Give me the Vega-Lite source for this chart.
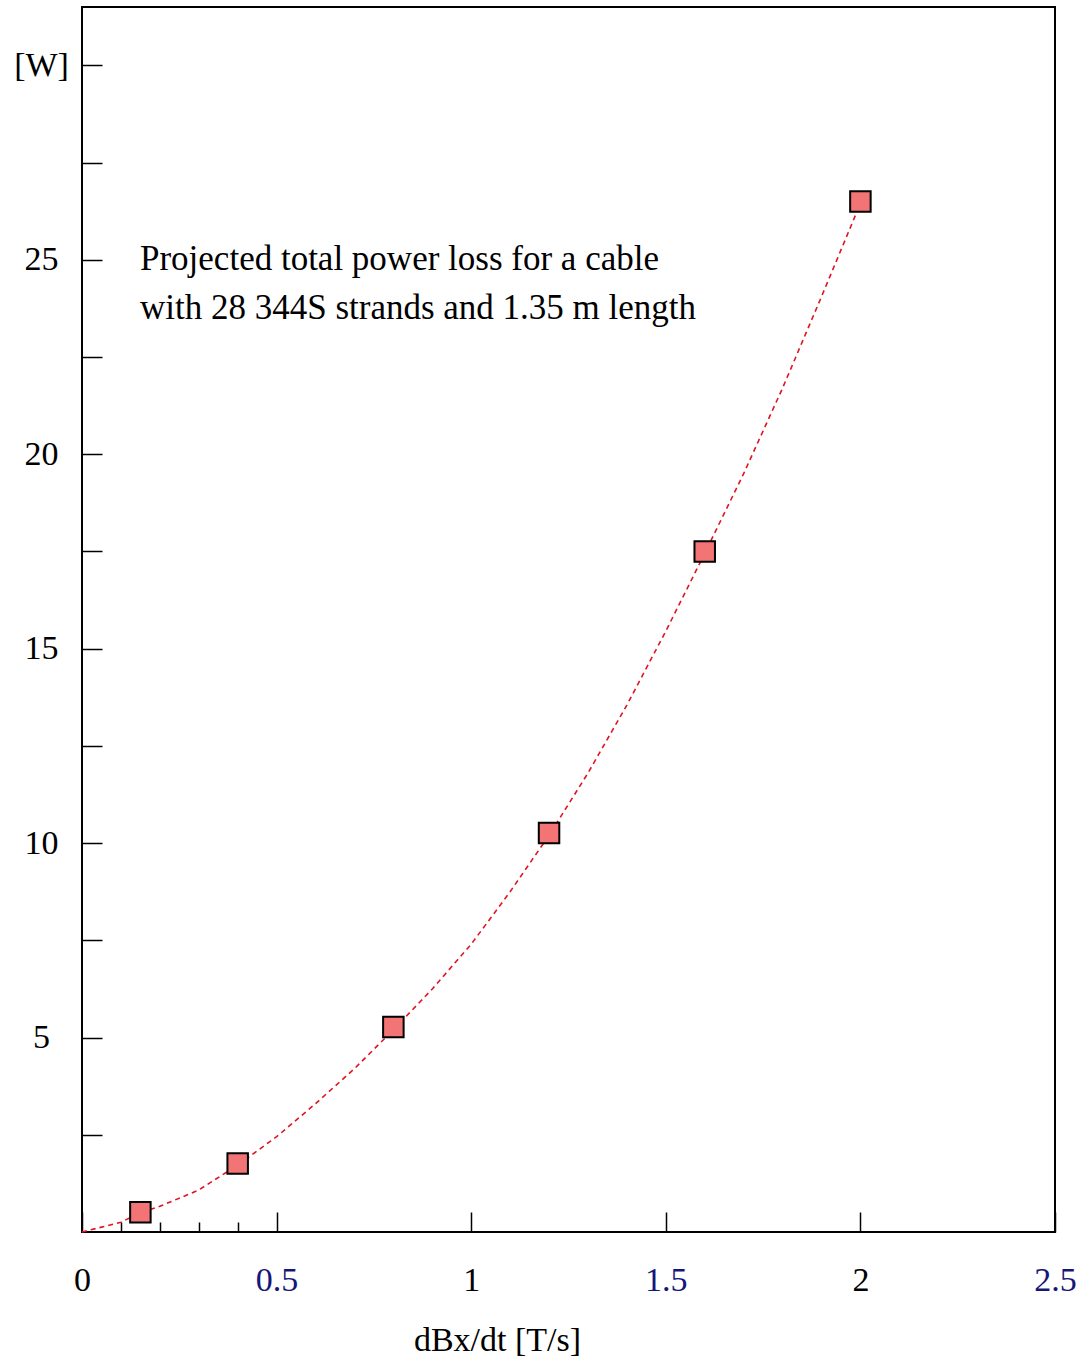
{
  "$schema": "https://vega.github.io/schema/vega-lite/v6.json",
  "width": 973,
  "height": 1225,
  "autosize": {"type": "none"},
  "padding": {"left": 82, "top": 7, "right": 31, "bottom": 128},
  "background": "white",
  "config": {
    "view": {"stroke": "black", "strokeWidth": 2},
    "axis": {
      "labelFont": "Liberation Serif",
      "titleFont": "Liberation Serif",
      "labelFontSize": 34,
      "titleFontSize": 34,
      "titleFontWeight": "normal",
      "grid": false,
      "domain": false,
      "tickColor": "black",
      "tickWidth": 1.5,
      "labelColor": "black",
      "titleColor": "black"
    }
  },
  "datasets": {
    "curve": [
      {"x": 0, "y": 0},
      {"x": 0.1, "y": 0.25},
      {"x": 0.15, "y": 0.5},
      {"x": 0.2, "y": 0.66},
      {"x": 0.3, "y": 1.08},
      {"x": 0.4, "y": 1.72},
      {"x": 0.5, "y": 2.45},
      {"x": 0.6, "y": 3.3},
      {"x": 0.7, "y": 4.2},
      {"x": 0.8, "y": 5.2},
      {"x": 0.9, "y": 6.25},
      {"x": 1.0, "y": 7.4},
      {"x": 1.1, "y": 8.75},
      {"x": 1.2, "y": 10.2},
      {"x": 1.3, "y": 11.8},
      {"x": 1.4, "y": 13.55},
      {"x": 1.5, "y": 15.45},
      {"x": 1.6, "y": 17.45},
      {"x": 1.7, "y": 19.5},
      {"x": 1.8, "y": 21.7},
      {"x": 1.9, "y": 24.05},
      {"x": 2.0, "y": 26.45}
    ],
    "points": [
      {"x": 0.15, "y": 0.51},
      {"x": 0.4, "y": 1.76},
      {"x": 0.8, "y": 5.27},
      {"x": 1.2, "y": 10.26},
      {"x": 1.6, "y": 17.5},
      {"x": 2.0, "y": 26.5}
    ],
    "note": [
      {"text": "Projected total power loss for a cable"}
    ]
  },
  "layer": [
    {
      "data": {"name": "curve"},
      "mark": {"type": "line", "color": "#e01420", "strokeDash": [5, 4], "strokeWidth": 1.6},
      "encoding": {
        "x": {
          "field": "x", "type": "quantitative",
          "scale": {"domain": [0, 2.5], "nice": false, "zero": true},
          "axis": {
            "orient": "bottom",
            "values": [0.1, 0.2, 0.3, 0.4],
            "tickSize": -10,
            "labels": false,
            "title": null
          }
        },
        "y": {
          "field": "y", "type": "quantitative",
          "scale": {"domain": [0, 31.5], "nice": false, "zero": true},
          "axis": {
            "values": [2.5, 5, 7.5, 10, 12.5, 15, 17.5, 20, 22.5, 25, 27.5, 30],
            "tickSize": -20,
            "format": "~g",
            "labelExpr": "datum.value == 30 ? '[W]' : (datum.value % 5 == 0 ? datum.label : '')",
            "labelAlign": "center",
            "labelBaseline": "middle",
            "labelPadding": 61,
            "title": null
          }
        }
      }
    },
    {
      "data": {"name": "points"},
      "mark": {"type": "point", "shape": "square", "filled": true, "size": 420, "fill": "#f27474", "stroke": "black", "strokeWidth": 2, "opacity": 1},
      "encoding": {
        "x": {
          "field": "x", "type": "quantitative",
          "axis": {
            "orient": "bottom",
            "values": [0, 0.5, 1, 1.5, 2, 2.5],
            "tickSize": -20,
            "format": "~g",
            "labelFlush": false,
            "labelPadding": 51,
            "labelColor": {"condition": {"test": "datum.value % 1 != 0", "value": "#161678"}, "value": "black"},
            "title": "dBx/dt [T/s]",
            "titleX": 415,
            "titleY": 118,
            "titleBaseline": "alphabetic",
            "titleAlign": "center"
          }
        },
        "y": {"field": "y", "type": "quantitative"}
      }
    },
    {
      "data": {"name": "note"},
      "mark": {
        "type": "text",
        "text": ["Projected total power loss for a cable", "with 28 344S strands and 1.35 m length"],
        "font": "Liberation Serif",
        "fontSize": 35,
        "align": "left",
        "baseline": "alphabetic",
        "lineHeight": 49,
        "color": "black"
      },
      "encoding": {
        "x": {"datum": 0.149, "type": "quantitative", "axis": null},
        "y": {"datum": 24.75, "type": "quantitative"}
      }
    }
  ],
  "resolve": {"axis": {"x": "independent"}}
}
